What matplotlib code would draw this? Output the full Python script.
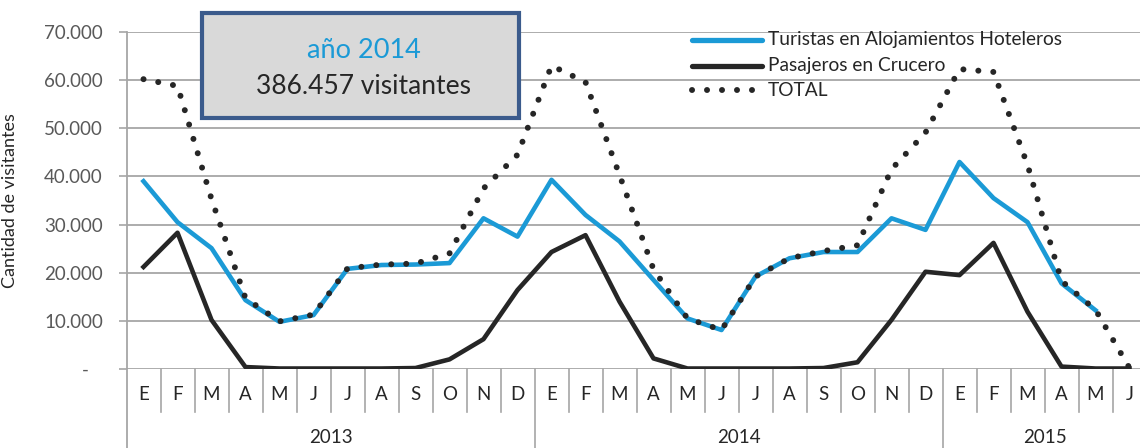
import numpy as np
import matplotlib
matplotlib.use("Agg")
import matplotlib.pyplot as plt
import matplotlib.transforms as mtransforms
from matplotlib.patches import Rectangle
from matplotlib.lines import Line2D

plt.rcParams['font.family'] = ['Lato', 'DejaVu Sans']

# ---------------- data ----------------
months = ['E', 'F', 'M', 'A', 'M', 'J', 'J', 'A', 'S', 'O', 'N', 'D',
          'E', 'F', 'M', 'A', 'M', 'J', 'J', 'A', 'S', 'O', 'N', 'D',
          'E', 'F', 'M', 'A', 'M', 'J']
years = ['2013', '2014', '2015']
year_lengths = [12, 12, 6]

turistas = [39000, 30500, 25100, 14300, 9800, 11200, 20800, 21600, 21700, 22000, 31300, 27500,
            39300, 32000, 26500, 18500, 10500, 8100, 19200, 23000, 24300, 24300, 31300, 28900,
            43000, 35500, 30500, 17800, 12200, np.nan]
cruceros = [21200, 28300, 10200, 400, 100, 100, 100, 100, 200, 2000, 6200, 16400,
            24300, 27800, 14000, 2200, 100, 100, 100, 100, 200, 1400, 10200, 20200,
            19500, 26200, 11900, 500, 100, 100]
total = [60200, 58800, 35300, 14700, 9900, 11300, 20900, 21700, 21900, 24000, 37500, 44500,
         63000, 59600, 40300, 20700, 10500, 8100, 19200, 23000, 24500, 25700, 41500, 49100,
         62300, 61700, 42400, 18300, 12300, 200]

yticks = [0, 10000, 20000, 30000, 40000, 50000, 60000, 70000]
ytick_labels = ['-   ', '10.000', '20.000', '30.000', '40.000', '50.000', '60.000', '70.000']

series_labels = ['Turistas en Alojamientos Hoteleros', 'Pasajeros en Crucero', 'TOTAL']
box_title = 'año 2014'
box_value = '386.457 visitantes'

# ---------------- style ----------------
W, H = 1140, 448
BLUE = '#1b9ad6'
DARK = '#262626'
GRID = '#a6a6a6'
LW = 3.3
DOT_LW = 4.3

fig = plt.figure(figsize=(W / 100, H / 100), dpi=100)
ax_left, ax_right, ax_top, ax_bottom = 126.5, 1146.5, 32, 369
ax = fig.add_axes([ax_left / W, 1 - ax_bottom / H, (ax_right - ax_left) / W, (ax_bottom - ax_top) / H])

x = np.arange(len(months))
ax.set_xlim(-0.5, len(months) - 0.5)
ax.set_ylim(0, 70000)

ax.set_yticks(yticks)
ax.set_yticklabels(ytick_labels)
ax.yaxis.grid(True, color=GRID, lw=1.3)
ax.set_axisbelow(True)
ax.tick_params(axis='y', length=6, width=1.2, color=GRID, labelcolor='#595959',
               labelsize=13.5, pad=11)
ax.set_xticks([])
for s in ['top', 'right', 'bottom', 'left']:
    ax.spines[s].set_visible(False)

ax.set_ylabel('Cantidad de visitantes', fontsize=13, color=DARK, labelpad=12)
ax.yaxis.set_label_coords(-(ax_left - 18) / (ax_right - ax_left), 0.5)

# category axis (two levels)
trans = mtransforms.blended_transform_factory(ax.transData, ax.transAxes)
ph = ax_bottom - ax_top
month_sep = -(412 - ax_bottom) / ph
year_sep = -(460 - ax_bottom) / ph
ax.plot([-0.5, -0.5], [1, year_sep], transform=trans, color=GRID, lw=1.3, clip_on=False)
boundaries = np.cumsum(year_lengths)[:-1]
for k in range(1, len(months)):
    if k in boundaries:
        ax.plot([k - 0.5, k - 0.5], [0, year_sep], transform=trans, color=GRID, lw=1.2, clip_on=False)
    else:
        ax.plot([k - 0.5, k - 0.5], [0, month_sep], transform=trans, color=GRID, lw=1.2, clip_on=False)
for i, m in enumerate(months):
    ax.text(i, -(394 - ax_bottom) / ph, m, transform=trans, ha='center', va='center',
            fontsize=13.5, color=DARK, clip_on=False)
start = 0
for yr, n in zip(years, year_lengths):
    ax.text(start + (n - 1) / 2, -(437 - ax_bottom) / ph, yr, transform=trans, ha='center',
            va='center', fontsize=13.5, color=DARK, clip_on=False)
    start += n

# series
dot_style = (0, (0.01, 2.5))
ax.plot(x, turistas, color=BLUE, lw=LW, zorder=3)
ax.plot(x, cruceros, color=DARK, lw=LW, zorder=4)
ax.plot(x, total, color=DARK, lw=DOT_LW, linestyle=dot_style, dash_capstyle='round', zorder=5)

# legend (manual)
leg_rows = [40, 66, 90]
styles = [dict(color=BLUE, lw=LW + 0.5, solid_capstyle='round'),
          dict(color=DARK, lw=LW + 0.5, solid_capstyle='round'),
          dict(color=DARK, lw=DOT_LW, linestyle=dot_style, dash_capstyle='round')]
for yy, lab, st in zip(leg_rows, series_labels, styles):
    fig.add_artist(Line2D([692 / W, 762 / W], [1 - yy / H, 1 - yy / H], transform=fig.transFigure, **st))
    fig.text(768 / W, 1 - yy / H, lab, ha='left', va='center', fontsize=13.8, color=DARK)

# annotation box
bx0, bx1, by0, by1 = 202, 519, 13, 118
fig.add_artist(Rectangle((bx0 / W, 1 - by1 / H), (bx1 - bx0) / W, (by1 - by0) / H,
                         transform=fig.transFigure, facecolor='#d9d9d9', edgecolor='#3b5b8c',
                         lw=3, zorder=10))
fig.text(364 / W, 1 - 50 / H, box_title, ha='center', va='center', fontsize=19.5, color=BLUE, zorder=11)
fig.text(364 / W, 1 - 87 / H, box_value, ha='center', va='center', fontsize=19, color=DARK, zorder=11)

fig.savefig('out.png', dpi=100)
